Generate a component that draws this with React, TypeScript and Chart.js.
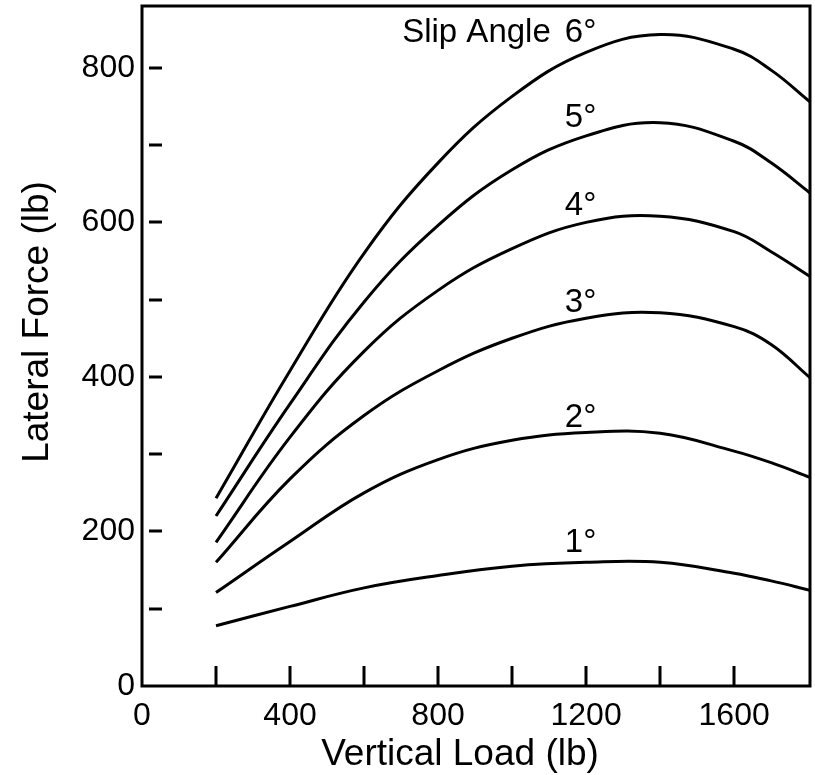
import React, { useEffect, useRef } from "react";
import { Chart, registerables } from "chart.js";

Chart.register(...registerables);

// Vertical load (lb) sample points
const loads = [200, 400, 600, 800, 1000, 1200, 1400, 1600, 1700, 1805];

// Lateral force (lb) per slip angle
const slip1 = [78, 103, 127, 143, 155, 160, 160, 146, 136, 124];
const slip2 = [121, 187, 250, 293, 318, 328, 327, 304, 289, 270];
const slip3 = [160, 268, 350, 408, 450, 476, 483, 465, 442, 399];
const slip4 = [186, 322, 433, 512, 566, 600, 608, 588, 562, 530];
const slip5 = [220, 365, 497, 596, 668, 712, 729, 705, 677, 638];
const slip6 = [243, 408, 560, 677, 763, 820, 843, 824, 797, 756];

const slipLabels = ["1°", "2°", "3°", "4°", "5°", "6°"];
const labelLoad = 1185;
const labelForce = [185, 347, 496, 621, 735, 845];

const xTickMarks = [200, 400, 600, 800, 1000, 1200, 1400, 1600];
const yTickMarks = [100, 200, 300, 400, 500, 600, 700, 800];

const xTitle = "Vertical Load (lb)";
const yTitle = "Lateral Force (lb)";
const legendTitle = "Slip Angle";

const W = 815;
const H = 775;
const FAM = "'Liberation Sans', Arial, Helvetica, sans-serif";

export default function App() {
  const ref = useRef<HTMLCanvasElement>(null);

  useEffect(() => {
    const series = [slip1, slip2, slip3, slip4, slip5, slip6];

    const deco = {
      id: "deco",
      afterDraw(c: any) {
        const { ctx, chartArea: a, scales } = c;
        const x = scales.x;
        const y = scales.y;
        ctx.save();
        ctx.strokeStyle = "#000";
        ctx.fillStyle = "#000";
        ctx.lineWidth = 3;
        ctx.strokeRect(a.left, a.top, a.right - a.left, a.bottom - a.top);

        ctx.lineWidth = 3;
        ctx.beginPath();
        for (const v of yTickMarks) {
          const py = Math.round(y.getPixelForValue(v));
          ctx.moveTo(a.left + 7, py);
          ctx.lineTo(a.left + 20, py);
        }
        for (const v of xTickMarks) {
          const px = Math.round(x.getPixelForValue(v));
          ctx.moveTo(px, a.bottom);
          ctx.lineTo(px, a.bottom - 20);
        }
        ctx.stroke();

        ctx.font = `33px ${FAM}`;
        ctx.textAlign = "center";
        ctx.textBaseline = "middle";
        const lx = x.getPixelForValue(labelLoad);
        slipLabels.forEach((t, i) => {
          ctx.fillText(t, lx, y.getPixelForValue(labelForce[i]));
        });
        const w6 = ctx.measureText(slipLabels[5]).width;
        ctx.textAlign = "right";
        ctx.fillText(legendTitle, lx - w6 / 2 - 14, y.getPixelForValue(labelForce[5]));

        ctx.font = `37px ${FAM}`;
        ctx.textAlign = "center";
        ctx.fillText(xTitle, 460, 755);
        ctx.translate(38, 322);
        ctx.rotate(-Math.PI / 2);
        ctx.fillText(yTitle, 0, 0);
        ctx.restore();
      },
    };

    const chart = new Chart(ref.current!, {
      type: "line",
      data: {
        datasets: series.map((s, i) => ({
          label: slipLabels[i],
          data: loads.map((l, j) => ({ x: l, y: s[j] })),
          borderColor: "#000",
          borderWidth: 3,
          pointRadius: 0,
          fill: false,
          tension: 0.4,
        })),
      },
      options: {
        animation: false,
        responsive: false,
        devicePixelRatio: 1,
        layout: { padding: { top: 6, right: 5, left: 0, bottom: 0 } },
        plugins: { legend: { display: false }, tooltip: { enabled: false } },
        scales: {
          x: {
            type: "linear",
            min: 0,
            max: 1805,
            grid: { display: false, drawTicks: false },
            border: { display: false },
            ticks: {
              stepSize: 400,
              includeBounds: false,
              autoSkip: false,
              maxRotation: 0,
              padding: 11,
              color: "#000",
              font: { family: FAM, size: 32 },
              callback: (v: any) => String(v),
            },
            afterFit: (s: any) => {
              s.height = H - 686;
              s.paddingLeft = 0;
              s.paddingRight = 0;
            },
          },
          y: {
            type: "linear",
            min: 0,
            max: 880,
            grid: { display: false, drawTicks: false },
            border: { display: false },
            ticks: {
              stepSize: 200,
              includeBounds: false,
              autoSkip: false,
              padding: 7,
              color: "#000",
              font: { family: FAM, size: 32 },
              callback: (v: any) => String(v),
            },
            afterFit: (s: any) => {
              s.width = 142;
              s.paddingTop = 0;
              s.paddingBottom = 0;
            },
          },
        },
      },
      plugins: [deco],
    });
    return () => chart.destroy();
  }, []);

  return (
    <div style={{ position: "absolute", left: 0, top: 0, width: W, height: H, background: "#fff" }}>
      <canvas ref={ref} width={W} height={H} style={{ display: "block", width: W, height: H }} />
    </div>
  );
}
